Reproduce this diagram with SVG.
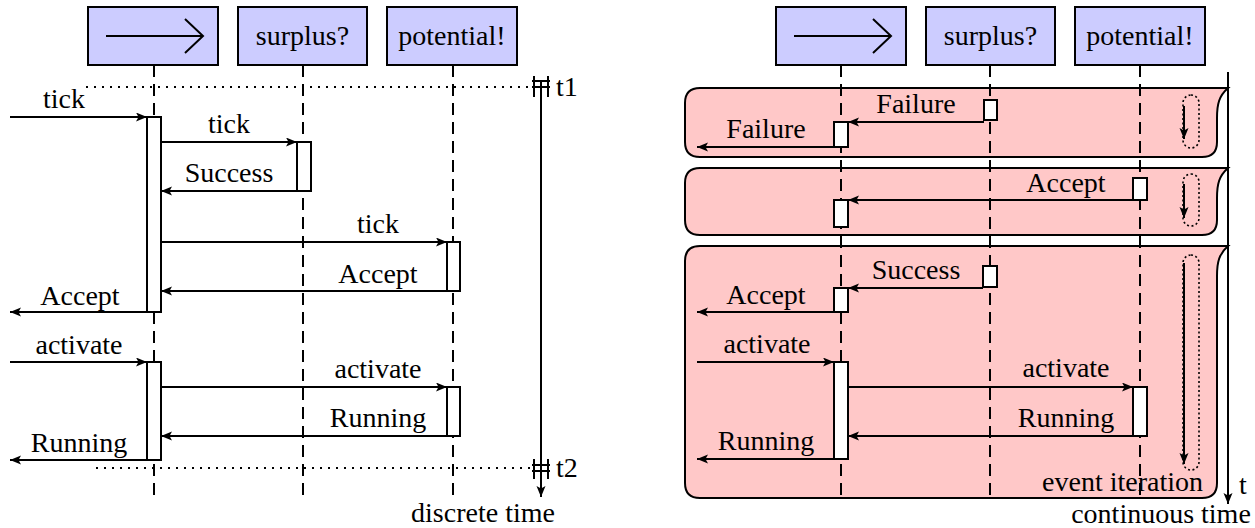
<svg xmlns="http://www.w3.org/2000/svg" width="1255" height="528" viewBox="0 0 1255 528">
<defs>
<marker id="ah" markerUnits="userSpaceOnUse" markerWidth="12" markerHeight="10" refX="11" refY="4.5" orient="auto">
<path d="M0,0 L11,4.5 L0,9 L2.5,4.5 z" fill="#000"/>
</marker>
<style>
.hdr{fill:#CCCCFF;stroke:#000;stroke-width:2}
.life{stroke:#000;stroke-width:2;stroke-dasharray:12 7;fill:none}
.act{fill:#fff;stroke:#000;stroke-width:2}
.msg{stroke:#000;stroke-width:2;fill:none;marker-end:url(#ah)}
.dot{stroke:#000;stroke-width:2;stroke-dasharray:2 6;fill:none}
.frame{fill:#FFC8C8;stroke:#000;stroke-width:2}
.loop{fill:none;stroke:#000;stroke-width:1.6;stroke-dasharray:2 2.5}
.ax{stroke:#000;stroke-width:2;fill:none}
text{font-family:"Liberation Serif","Times New Roman",serif;font-size:28px;fill:#000}
.m{text-anchor:middle}
</style>
</defs>

<!-- Right frames (background) -->
<g id="frame1">
<path class="frame" d="M700,88 L1228,88 C1219,96 1217,104 1217,118 L1217,142 Q1217,157 1202,157 L700,157 Q685,157 685,142 L685,103 Q685,88 700,88 Z"/>
<rect class="loop" x="1183" y="95" width="16" height="53" rx="8"/>
<line class="msg" x1="1184" y1="106" x2="1184" y2="139"/>
</g>
<g id="frame2">
<path class="frame" d="M700,168 L1228,168 C1219,176 1217,184 1217,198 L1217,220 Q1217,235 1202,235 L700,235 Q685,235 685,220 L685,183 Q685,168 700,168 Z"/>
<rect class="loop" x="1183" y="174" width="16" height="52" rx="8"/>
<line class="msg" x1="1184" y1="184" x2="1184" y2="218"/>
</g>
<g id="frame3">
<path class="frame" d="M700,246 L1228,246 C1219,254 1217,262 1217,276 L1217,483 Q1217,498 1202,498 L700,498 Q685,498 685,483 L685,261 Q685,246 700,246 Z"/>
<rect class="loop" x="1183" y="255" width="16" height="215" rx="8"/>
<line class="msg" x1="1184" y1="263" x2="1184" y2="464"/>
<text x="1203" y="491" text-anchor="end">event iteration</text>
</g>

<!-- Left headers -->
<g id="L_h1">
<rect class="hdr" x="88" y="7" width="130" height="58"/>
<line class="ax" x1="106" y1="36" x2="203" y2="36"/>
<polyline class="ax" points="185,19 203,36 185,53"/>
</g>
<g id="L_h2">
<rect class="hdr" x="238" y="7" width="129" height="58"/>
<text class="m" x="302.5" y="45">surplus?</text>
</g>
<g id="L_h3">
<rect class="hdr" x="387" y="7" width="130" height="58"/>
<text class="m" x="452" y="45">potential!</text>
</g>

<!-- Right headers -->
<g id="R_h1">
<rect class="hdr" x="776" y="7" width="130" height="58"/>
<line class="ax" x1="794" y1="36" x2="891" y2="36"/>
<polyline class="ax" points="873,19 891,36 873,53"/>
</g>
<g id="R_h2">
<rect class="hdr" x="926" y="7" width="129" height="58"/>
<text class="m" x="990.5" y="45">surplus?</text>
</g>
<g id="R_h3">
<rect class="hdr" x="1075" y="7" width="130" height="58"/>
<text class="m" x="1140" y="45">potential!</text>
</g>

<g id="connectors">
<!-- lifelines -->
<line class="life" x1="154" y1="65" x2="154" y2="500"/>
<line class="life" x1="303" y1="65" x2="303" y2="500"/>
<line class="life" x1="453" y1="65" x2="453" y2="500"/>
<line class="life" x1="841" y1="65" x2="841" y2="500"/>
<line class="life" x1="990" y1="65" x2="990" y2="500"/>
<line class="life" x1="1140" y1="65" x2="1140" y2="500"/>

<!-- dotted time marks left -->
<line class="dot" x1="86" y1="87" x2="530" y2="87"/>
<line class="dot" x1="96" y1="468" x2="530" y2="468"/>

<!-- left time axis -->
<line class="ax" x1="541" y1="81" x2="541" y2="497" marker-end="url(#ah)"/>
<line class="ax" x1="534" y1="76" x2="534" y2="97"/>
<line class="ax" x1="548" y1="76" x2="548" y2="97"/>
<line class="ax" x1="532" y1="81" x2="550" y2="81"/>
<line class="ax" x1="532" y1="87" x2="550" y2="87"/>
<line class="ax" x1="534" y1="459" x2="534" y2="479"/>
<line class="ax" x1="548" y1="459" x2="548" y2="479"/>
<line class="ax" x1="532" y1="465" x2="550" y2="465"/>
<line class="ax" x1="532" y1="471" x2="550" y2="471"/>

<!-- right time axis -->
<line class="ax" x1="1228" y1="72" x2="1228" y2="504" marker-end="url(#ah)"/>

<!-- left messages -->
<line class="msg" x1="10" y1="117" x2="147" y2="117"/>
<line class="msg" x1="161" y1="142" x2="297" y2="142"/>
<line class="msg" x1="297" y1="191" x2="161" y2="191"/>
<line class="msg" x1="161" y1="242" x2="447" y2="242"/>
<line class="msg" x1="447" y1="291" x2="161" y2="291"/>
<line class="msg" x1="147" y1="312" x2="10" y2="312"/>
<line class="msg" x1="10" y1="362" x2="147" y2="362"/>
<line class="msg" x1="161" y1="387" x2="447" y2="387"/>
<line class="msg" x1="447" y1="436" x2="161" y2="436"/>
<line class="msg" x1="147" y1="460" x2="10" y2="460"/>

<!-- right messages -->
<line class="msg" x1="984" y1="122" x2="848" y2="122"/>
<line class="msg" x1="834" y1="147" x2="697" y2="147"/>
<line class="msg" x1="1133" y1="200" x2="848" y2="200"/>
<line class="msg" x1="983" y1="288" x2="848" y2="288"/>
<line class="msg" x1="834" y1="312" x2="697" y2="312"/>
<line class="msg" x1="697" y1="362" x2="834" y2="362"/>
<line class="msg" x1="848" y1="387" x2="1133" y2="387"/>
<line class="msg" x1="1133" y1="436" x2="848" y2="436"/>
<line class="msg" x1="834" y1="459" x2="697" y2="459"/>
</g>

<!-- activation boxes left -->
<g id="L_act">
<rect class="act" x="147" y="117" width="14" height="195"/>
<rect class="act" x="297" y="142" width="14" height="49"/>
<rect class="act" x="447" y="242" width="13" height="49"/>
<rect class="act" x="147" y="362" width="14" height="98"/>
<rect class="act" x="447" y="387" width="13" height="49"/>
</g>
<!-- activation boxes right -->
<g id="R_act">
<rect class="act" x="984" y="100" width="13" height="20"/>
<rect class="act" x="834" y="122" width="14" height="25"/>
<rect class="act" x="1133" y="178" width="14" height="22"/>
<rect class="act" x="834" y="200" width="14" height="27"/>
<rect class="act" x="983" y="266" width="14" height="21"/>
<rect class="act" x="834" y="288" width="14" height="24"/>
<rect class="act" x="834" y="362" width="14" height="97"/>
<rect class="act" x="1133" y="387" width="14" height="49"/>
</g>

<!-- labels left -->
<g id="L_labels">
<text class="m" x="64" y="108">tick</text>
<text class="m" x="229" y="133">tick</text>
<text class="m" x="229" y="182">Success</text>
<text class="m" x="378" y="233">tick</text>
<text class="m" x="378" y="283">Accept</text>
<text class="m" x="80" y="305">Accept</text>
<text class="m" x="79" y="354">activate</text>
<text class="m" x="378" y="378">activate</text>
<text class="m" x="378" y="427">Running</text>
<text class="m" x="79" y="452">Running</text>
<text x="556" y="96">t1</text>
<text x="556" y="477">t2</text>
<text class="m" x="483" y="522">discrete time</text>
</g>

<!-- labels right -->
<g id="R_labels">
<text class="m" x="916" y="113">Failure</text>
<text class="m" x="766" y="138">Failure</text>
<text class="m" x="1066" y="192">Accept</text>
<text class="m" x="916" y="279">Success</text>
<text class="m" x="766" y="304">Accept</text>
<text class="m" x="767" y="353">activate</text>
<text class="m" x="1066" y="377">activate</text>
<text class="m" x="1066" y="427">Running</text>
<text class="m" x="766" y="450">Running</text>
<text x="1239" y="494">t</text>
<text class="m" x="1161" y="523">continuous time</text>
</g>
</svg>
